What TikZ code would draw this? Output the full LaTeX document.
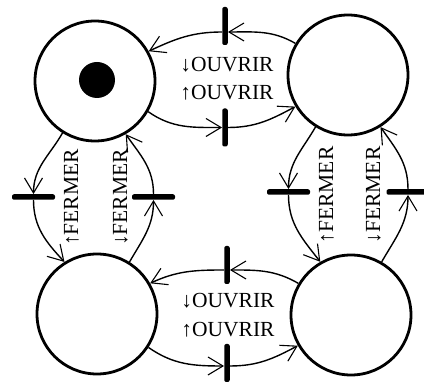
\documentclass[tikz,border=0pt]{standalone}
\usepackage{fontspec}
\setmainfont{Liberation Serif}
\usetikzlibrary{arrows.meta}

\begin{document}
\begin{tikzpicture}[x=1pt, y=1pt,
  place/.style={circle, draw, line width=2.8pt, minimum size=120pt, inner sep=0pt},
  token/.style={circle, fill=black, minimum size=36pt, inner sep=0pt},
  vbar/.style={rectangle, fill=black, rounded corners=2pt, minimum width=5.5pt, minimum height=38pt, inner sep=0pt},
  hbar/.style={rectangle, fill=black, rounded corners=2pt, minimum width=43pt, minimum height=5.5pt, inner sep=0pt},
  arc/.style={line width=1.4pt, -{Straight Barb[length=15pt, width=18pt, line width=1.1pt]}},
  lbl/.style={font=\fontsize{21.5}{25}\selectfont, inner sep=0pt, anchor=base}]
  \useasboundingbox (0,0) rectangle (424,385);

  % --- places ---
  \node[place] (p1) at (95,304) {};
  \node[place] (p2) at (348,310) {};
  \node[place] (p3) at (97,71) {};
  \node[place] (p4) at (351,70) {};
  \node[token] (m1) at (97,305) {};

  % --- transitions ---
  \node[vbar] (t1) at (225,359) {};
  \node[vbar] (t2) at (225,257.5) {};
  \node[vbar] (t3) at (227,120) {};
  \node[vbar] (t4) at (227,22) {};
  \node[hbar] (t5) at (33.5,188) {};
  \node[hbar] (t6) at (153.5,188) {};
  \node[hbar] (t7) at (288.5,193) {};
  \node[hbar] (t8) at (408,193) {};

  % --- top pair ---
  \draw[arc] (p2.149) to[out=150, in=0] ([yshift=-6pt]t1.east);
  \draw[arc] ([yshift=-6pt]t1.west) to[out=180, in=25] (p1.29);
  \draw[arc] (p1.-30) to[out=-35, in=180] (t2.west);
  \draw[arc] (t2.east) to[out=0, in=208] (p2.211);
  \node[lbl] (o1) at (227,313) {↓OUVRIR};
  \node[lbl] (o2) at (227,285) {↑OUVRIR};

  % --- bottom pair ---
  \draw[arc] (p4.149) to[out=150, in=0] ([yshift=-5pt]t3.east);
  \draw[arc] ([yshift=-5pt]t3.west) to[out=180, in=25] (p3.30);
  \draw[arc] (p3.-33) to[out=-35, in=180] ([yshift=-3pt]t4.west);
  \draw[arc] ([yshift=-3pt]t4.east) to[out=0, in=208] (p4.210);
  \node[lbl] (o3) at (228,77) {↓OUVRIR};
  \node[lbl] (o4) at (228,48) {↑OUVRIR};

  % --- left pair ---
  \draw[arc] (p1.238) to[out=240, in=90] (t5.north);
  \draw[arc] (t5.south) to[out=-90, in=133] (p3.122);
  \draw[arc] (p3.58) to[out=60, in=-90] (t6.south);
  \draw[arc] (t6.north) to[out=90, in=-55] (p1.300);
  \node[lbl, rotate=90] (f1) at (78,187.5) {↑FERMER};
  \node[lbl, rotate=90] (f2) at (127,187.5) {↓FERMER};

  % --- right pair ---
  \draw[arc] (p2.238) to[out=240, in=90] (t7.north);
  \draw[arc] (t7.south) to[out=-90, in=128] (p4.120);
  \draw[arc] (p4.60) to[out=60, in=-90] (t8.south);
  \draw[arc] (t8.north) to[out=90, in=-55] (p2.302);
  \node[lbl, rotate=90] (f3) at (333,190) {↑FERMER};
  \node[lbl, rotate=90] (f4) at (380,190) {↓FERMER};
\end{tikzpicture}
\end{document}
